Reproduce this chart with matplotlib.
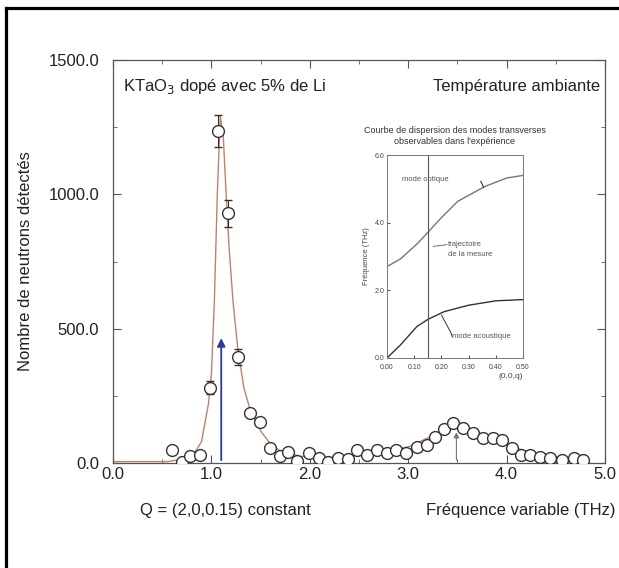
import numpy as np
import matplotlib.pyplot as plt
from matplotlib.lines import Line2D

plt.rcParams['font.family'] = ['Liberation Sans', 'DejaVu Sans']

# Points mesures (frequence en THz, nombre de neutrons)
freq = [0.60, 0.70, 0.78, 0.88, 0.99, 1.07, 1.17, 1.27, 1.39, 1.49, 1.60, 1.70,
        1.78, 1.87, 1.99, 2.09, 2.19, 2.29, 2.39, 2.48, 2.58, 2.68, 2.78, 2.88,
        2.98, 3.09, 3.19, 3.27, 3.36, 3.46, 3.56, 3.66, 3.76, 3.86, 3.95, 4.05,
        4.15, 4.24, 4.34, 4.44, 4.56, 4.68, 4.78]
neutrons = [48, 5, 25, 30, 280, 1235, 930, 395, 185, 154, 55, 25,
            42, 8, 36, 18, 5, 18, 14, 48, 30, 48, 36, 48,
            36, 61, 67, 98, 125, 148, 129, 110, 92, 92, 86, 55,
            30, 30, 24, 18, 11, 18, 11]
erreurs = [0, 0, 0, 0, 25, 60, 50, 30, 0, 0, 0, 0,
           0, 0, 0, 0, 0, 0, 0, 0, 0, 0, 0, 0,
           0, 0, 0, 0, 0, 0, 0, 0, 0, 0, 0, 0,
           0, 0, 0, 0, 0, 0, 0]

# Courbe d'ajustement
fit_x = [0.0, 0.55, 0.80, 0.90, 0.97, 1.00, 1.03, 1.06, 1.09, 1.12, 1.15, 1.18,
         1.22, 1.27, 1.33, 1.40, 1.50, 1.60, 1.70, 1.90, 2.20, 2.60, 3.00,
         3.30, 3.50, 3.70, 4.00, 4.30, 4.80]
fit_y = [5, 5, 20, 80, 220, 330, 600, 1000, 1290, 1220, 1000, 800,
         600, 420, 280, 190, 120, 70, 45, 25, 20, 30, 60,
         110, 140, 115, 70, 30, 10]

# Encart : courbes de dispersion
q_opt = [0.006, 0.05, 0.11, 0.15, 0.20, 0.26, 0.36, 0.44, 0.51]
f_opt = [2.73, 2.93, 3.37, 3.71, 4.15, 4.63, 5.07, 5.32, 5.41]
q_ac = [0.0, 0.05, 0.11, 0.15, 0.21, 0.30, 0.40, 0.51]
f_ac = [0.0, 0.39, 0.93, 1.14, 1.37, 1.56, 1.69, 1.73]

grey = '#555555'
fig = plt.figure(figsize=(6.19, 5.68), dpi=100)
ax = fig.add_axes([113/619, 1 - 463/568, 492/619, 403/568])

ax.plot(fit_x, fit_y, color='#c0806e', lw=1.0, zorder=2)
ax.errorbar(freq, neutrons, yerr=erreurs, fmt='o', ms=8.5, mfc='white',
            mec='#333333', mew=1.0, ecolor='#333333', elinewidth=0.8,
            capsize=3, zorder=3)

# fleches verticales
ax.annotate('', xy=(1.10, 475), xytext=(1.10, 0),
            arrowprops=dict(arrowstyle='-|>', color='#2b3a9a', lw=1.3,
                            mutation_scale=12), zorder=4)
ax.annotate('', xy=(3.49, 125), xytext=(3.49, 0),
            arrowprops=dict(arrowstyle='-|>', color='#777777', lw=0.8,
                            mutation_scale=8), zorder=1)

ax.set_xlim(0, 5)
ax.set_ylim(0, 1500)
ax.set_xticks([0, 1, 2, 3, 4, 5])
ax.set_xticks([0.5, 1.5, 2.5, 3.5, 4.5], minor=True)
ax.set_yticks([0, 500, 1000, 1500])
ax.set_yticks([250, 750, 1250], minor=True)
ax.set_xticklabels(['0.0', '1.0', '2.0', '3.0', '4.0', '5.0'])
ax.set_yticklabels(['0.0', '500.0', '1000.0', '1500.0'])
ax.tick_params(which='both', direction='in', top=True, right=True,
               color=grey, labelsize=12, labelcolor='#222222')
ax.tick_params(which='major', length=6)
ax.tick_params(axis='y', pad=10)
ax.tick_params(axis='x', pad=3)
ax.tick_params(which='minor', length=3)
for s in ax.spines.values():
    s.set_color(grey)
    s.set_linewidth(0.9)

ax.set_ylabel('Nombre de neutrons détectés', fontsize=12, color='#222222',
              labelpad=11)
ax.text(0.02, 0.935, 'KTaO$_3$ dopé avec 5% de Li', transform=ax.transAxes,
        fontsize=12, color='#222222', va='center')
ax.text(0.99, 0.935, 'Température ambiante', transform=ax.transAxes,
        fontsize=12, color='#222222', va='center', ha='right')
fig.text(140/619, 1 - 510/568, 'Q = (2,0,0.15) constant', fontsize=12,
         color='#222222', va='center')
fig.text(615/619, 1 - 510/568, 'Fréquence variable (THz)', fontsize=12,
         color='#222222', va='center', ha='right')

# Encart
ins = fig.add_axes([387/619, 1 - 358/568, 136/619, 203/568])
ins.plot(q_opt, f_opt, color='#777777', lw=1.0)
ins.plot(q_ac, f_ac, color='#333333', lw=1.0)
ins.axvline(0.15, color='#555555', lw=0.8)
ins.set_xlim(0, 0.5)
ins.set_ylim(0, 6)
ins.set_xticks([0, 0.1, 0.2, 0.3, 0.4, 0.5])
ins.set_xticklabels(['0.00', '0.10', '0.20', '0.30', '0.40', '0.50'])
ins.set_yticks([0, 2, 4, 6])
ins.set_yticklabels(['0.0', '2.0', '4.0', '6.0'])
ins.tick_params(direction='in', labelsize=5, length=2, color=grey,
                labelcolor='#444444', pad=2)
ins.tick_params(axis='x', pad=4)
for s in ins.spines.values():
    s.set_color('#777777')
    s.set_linewidth(0.7)
ins.set_ylabel('Fréquence (THz)', fontsize=5.5, color='#444444', labelpad=3)
ins.set_xlabel('(0,0,q)', fontsize=6, color='#444444', loc='right',
               labelpad=2)
ins.set_title("Courbe de dispersion des modes transverses\n"
              "observables dans l'expérience", fontsize=6.5,
              color='#333333', pad=8, linespacing=1.3)
ins.text(0.14, 5.27, 'mode optique', fontsize=5.5, color='#555555', ha='center',
         va='center')
ins.plot([0.345, 0.355], [5.22, 5.05], color='#333333', lw=0.8)
ins.text(0.225, 3.2, 'trajectoire\nde la mesure', fontsize=5.5, color='#555555',
         va='center', linespacing=1.6)
ins.plot([0.17, 0.22], [3.3, 3.35], color='#555555', lw=0.6)
ins.text(0.24, 0.63, 'mode acoustique', fontsize=5.5, color='#555555',
         va='center')
ins.plot([0.20, 0.235, 0.24], [1.27, 0.75, 0.63], color='#333333', lw=0.7)

# cadre noir (bords haut et gauche)
fig.add_artist(Line2D([6/619, 1.0], [1 - 7.5/568, 1 - 7.5/568],
                      transform=fig.transFigure, color='black', lw=2.3))
fig.add_artist(Line2D([6/619, 6/619], [0.0, 1 - 7.5/568],
                      transform=fig.transFigure, color='black', lw=2.3))

fig.savefig('out.png', dpi=100)
